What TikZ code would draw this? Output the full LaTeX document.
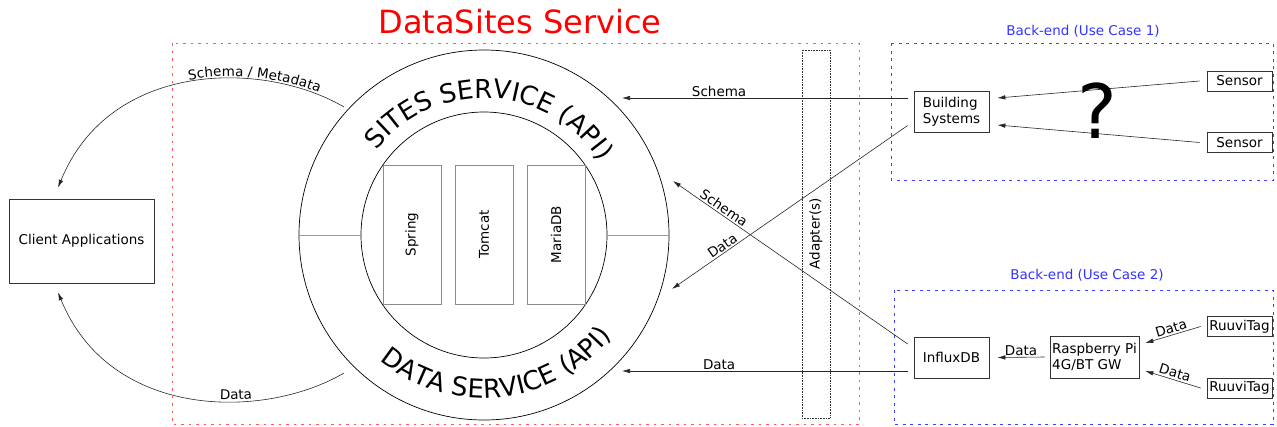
\documentclass[tikz,border=0pt]{standalone}
\usepackage{fontspec}
\setmainfont{DejaVu Sans}
\usetikzlibrary{arrows.meta,decorations.text}

\begin{document}
\begin{tikzpicture}[x=1pt, y=1pt, >={Latex[length=8pt,width=4.5pt]},
    font=\fontsize{13.5}{16}\selectfont,
    box/.style={draw=black!80, line width=0.7pt, inner sep=2pt},
    layer/.style={draw=black!45, line width=0.7pt, rotate=90, minimum width=139pt, minimum height=58pt},
    arr/.style={->, draw=black!85, line width=0.6pt},
    lbl/.style={inner sep=1.5pt},
    frame/.style={line width=1pt, dash pattern=on 2.5pt off 5pt}]
    % Picture size
    \useasboundingbox (0,0) rectangle (1277,-426);

    % 1. Frames and titles
    \draw[frame, red!65] (172,-43) rectangle (859,-424);
    \draw[frame, blue!75, dash pattern=on 3pt off 4.5pt] (891,-43) rectangle (1273,-180);
    \draw[frame, blue!75, dash pattern=on 3pt off 4.5pt] (894,-290) rectangle (1273,-424);
    \node[red, font=\fontsize{32}{36}\selectfont] (title) at (520,-22) {DataSites Service};
    \node[blue!80] (uc1) at (1083,-31) {Back-end (Use Case 1)};
    \node[blue!80] (uc2) at (1087,-275) {Back-end (Use Case 2)};

    % 2. Service rings
    \coordinate (core) at (484,-235);
    \draw[line width=0.7pt] (core) circle[radius=185];
    \draw[line width=0.7pt] (core) circle[radius=123];
    \draw[black!40, line width=0.7pt] ([xshift=-185]core) -- ([xshift=-123]core);
    \draw[black!40, line width=0.7pt] ([xshift=123]core) -- ([xshift=185]core);
    \path[decorate, decoration={text along path, text align=center,
        text={|\fontsize{26}{30}\selectfont|SITES SERVICE (API)}}]
        (core) ++(147:137) arc[start angle=147, end angle=27, radius=137];
    \path[decorate, decoration={text along path, text align=center,
        text={|\fontsize{26}{30}\selectfont|DATA SERVICE (API)}}]
        (core) ++(216:163) arc[start angle=216, end angle=336, radius=163];

    % 3. Inner stack and adapter
    \node[layer] (spring) at (412,-234.5) {Spring};
    \node[layer] (tomcat) at (484,-234.5) {Tomcat};
    \node[layer] (mariadb) at (556,-234.5) {MariaDB};
    \node[draw=black!80, densely dotted, line width=0.6pt, rotate=90,
        minimum width=368pt, minimum height=28pt] (adapter) at (816,-234) {Adapter(s)};

    % 4. Clients and back-ends
    \node[box, minimum width=145pt, minimum height=84pt] (client) at (81.5,-241) {Client Applications};
    \node[box, minimum width=75pt, minimum height=41pt, align=left] (bsys) at (951.5,-111.5) {Building\\Systems};
    \node[box, minimum width=65pt, minimum height=20pt] (sensorA) at (1239.5,-81) {Sensor};
    \node[box, minimum width=65pt, minimum height=20pt] (sensorB) at (1239.5,-142.5) {Sensor};
    \node[box, minimum width=75pt, minimum height=41pt] (influx) at (951.5,-357.5) {InfluxDB};
    \node[box, minimum width=89pt, minimum height=42pt, align=left, inner sep=1pt] (rpi) at (1094.5,-357) {Raspberry Pi\\4G/BT GW};
    \node[box, minimum width=65pt, minimum height=20pt, inner sep=1pt] (ruuviA) at (1239.5,-326.5) {RuuviTag};
    \node[box, minimum width=65pt, minimum height=20pt, inner sep=1pt] (ruuviB) at (1239.5,-388) {RuuviTag};

    % 5. Flows into the service
    \coordinate (sitesIn) at (622,-98);
    \coordinate (dataIn) at (622,-371);
    \coordinate (sitesInner) at (673,-181);
    \coordinate (dataInner) at (672,-289);
    \draw[arr] ([shift={(-6,13.5)}]bsys.west) -- node[lbl, above, pos=.66] {Schema} (sitesIn);
    \draw[arr] ([shift={(-6,-14)}]bsys.west) -- node[lbl, above, sloped, pos=.77] {Data} (dataInner);
    \draw[arr] ([shift={(-6,13.5)}]influx.west) -- node[lbl, above, sloped, pos=.8] {Schema} (sitesInner);
    \draw[arr] ([shift={(-6,-13.5)}]influx.west) -- node[lbl, above, pos=.66] {Data} (dataIn);

    % 6. Flows out to the clients
    \coordinate (sitesOut) at (344,-107);
    \coordinate (dataOut) at (344,-373);
    \coordinate (clientTop) at ([shift={(-23.5,11)}]client.north);
    \coordinate (clientBot) at ([shift={(-23.5,-9)}]client.south);
    \draw[arr] (sitesOut) .. controls (264,-60) and (110,-60) .. (clientTop);
    \path[decorate, decoration={text along path, raise=2pt, text align={left indent=176pt},
        text={|\fontsize{13.5}{16}\selectfont|Schema / Metadata}}]
        (clientTop) .. controls (110,-60) and (264,-60) .. (sitesOut);
    \draw[arr] (dataOut) .. controls (264,-420) and (110,-420) .. (clientBot);
    \path[decorate, decoration={text along path, raise=2pt, text align={left indent=207pt},
        text={|\fontsize{13.5}{16}\selectfont|Data}}]
        (clientBot) .. controls (110,-420) and (264,-420) .. (dataOut);

    % 7. Flows inside the back-ends
    \draw[arr] ([xshift=-7]sensorA.west) -- ([shift={(8,13.5)}]bsys.east);
    \draw[arr] ([xshift=-7]sensorB.west) -- ([shift={(8,-13.5)}]bsys.east);
    \node[font=\fontsize{75}{80}\selectfont] (unknown) at (1097,-111) {?};
    \draw[arr] ([xshift=-6]ruuviA.west) -- node[lbl, above, sloped] {Data} ([shift={(6,14)}]rpi.east);
    \draw[arr] ([xshift=-6]ruuviB.west) -- node[lbl, above, sloped] {Data} ([shift={(6,-14)}]rpi.east);
    \draw[arr] ([xshift=-5]rpi.west) -- node[lbl, above] {Data} ([xshift=8]influx.east);

\end{tikzpicture}
\end{document}
